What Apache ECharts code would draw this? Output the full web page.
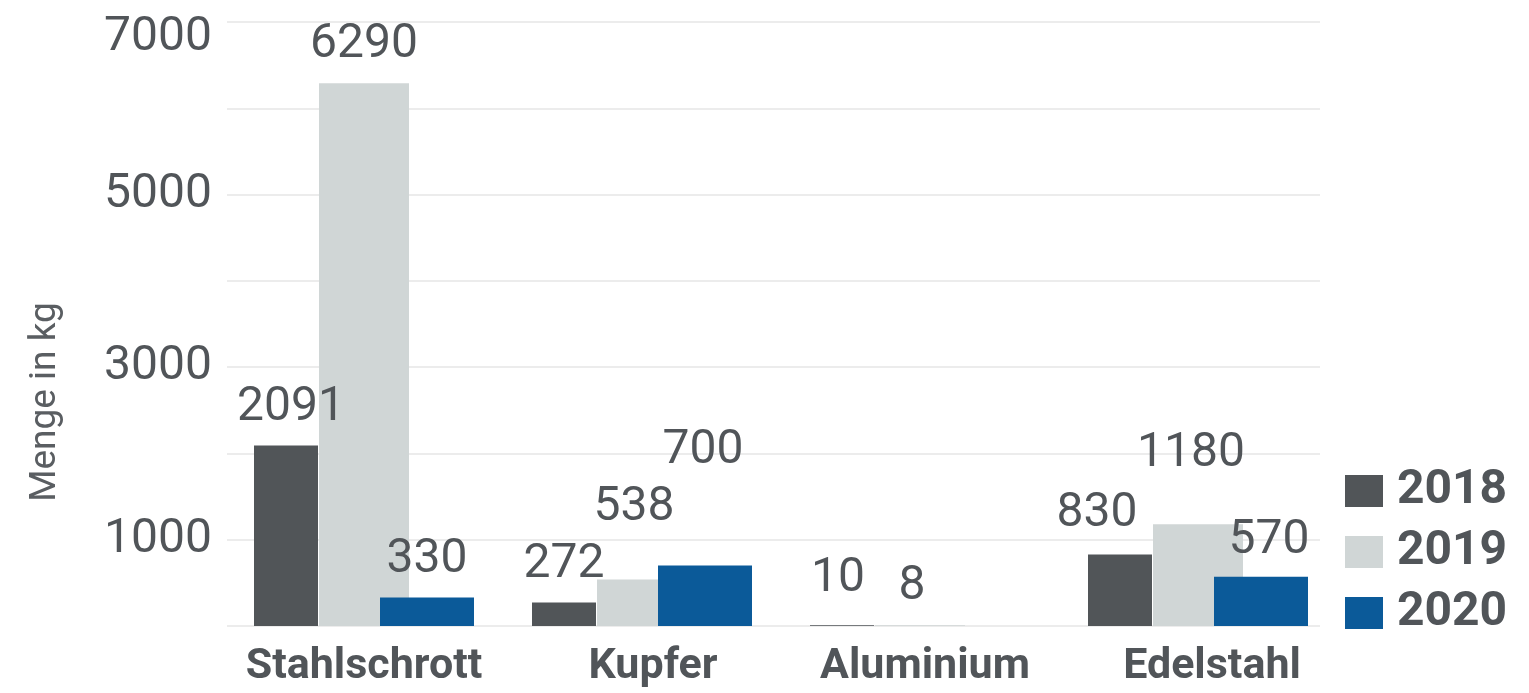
<!DOCTYPE html>
<html>
<head>
<meta charset="utf-8">
<script src="https://cdn.jsdelivr.net/npm/echarts@6/dist/echarts.min.js"></script>
<style>
  html, body { margin: 0; padding: 0; background: #ffffff; }
  #chart { width: 1529px; height: 693px; }
</style>
</head>
<body>
<div id="chart"></div>
<script>
// Materials and yearly quantities (kg)
const categories = ['Stahlschrott', 'Kupfer', 'Aluminium', 'Edelstahl'];
const years = ['2018', '2019', '2020'];
const values2018 = [2091, 272, 10, 830];
const values2019 = [6290, 538, 8, 1180];
const values2020 = [330, 700, null, 570];
const yTickLabels = [1000, 3000, 5000, 7000];

const FONT = 'Roboto';
const TEXT = '#515559';

// Per-year bar look: colour, width and horizontal shift from the category centre
const barLook = [
  { color: '#515558', width: 64, shift: -78 },
  { color: '#d0d6d6', width: 90, shift: 0 },
  { color: '#0b5a99', width: 94, shift: 63 }
];

// Small label nudges [dx, extra lift] so crowded labels don't collide
const labelNudge = {
  '2018|Stahlschrott': [5, 0],
  '2018|Aluminium': [-4, 8],
  '2018|Edelstahl': [-23, 2],
  '2019|Kupfer': [-8, 34],
  '2019|Aluminium': [-8, 0],
  '2019|Edelstahl': [-7, 32],
  '2020|Kupfer': [-2, 77],
  '2020|Edelstahl': [8, -2]
};

// Category label shifts (px) along the axis
const catShift = { 'Stahlschrott': 0, 'Kupfer': 11, 'Aluminium': 5, 'Edelstahl': 14 };

const yearValues = [values2018, values2019, values2020];
const PLOT_TOP = 22, PLOT_BOTTOM = 67, BAR_LEFT = 225, BAR_RIGHT = 192;

const grids = [{ left: 227, right: 209, top: PLOT_TOP, bottom: PLOT_BOTTOM }];
const xAxes = [{ gridIndex: 0, type: 'category', data: categories, show: false }];
const yAxes = [{
  gridIndex: 0, type: 'value', min: 0, max: 7000, interval: 1000,
  axisLine: { show: false }, axisTick: { show: false },
  splitLine: { show: true, lineStyle: { color: '#ececec', width: 2 } },
  axisLabel: {
    margin: 15, fontFamily: FONT, fontSize: 48, color: TEXT,
    formatter: v => yTickLabels.includes(v) ? (v === 7000 ? '{top|' + v + '}' : String(v)) : '',
    rich: { top: { padding: [32, 0, 0, 0], fontFamily: FONT, fontSize: 48, color: TEXT } }
  }
}];

// Category names, each with its own small horizontal shift
const catRich = {};
categories.forEach((c, k) => {
  catRich['k' + k] = {
    fontFamily: FONT, fontSize: 43, fontWeight: 'bold', color: TEXT,
    padding: [0, 0, 0, 2 * (catShift[c] || 0)]
  };
});

const series = [];
years.forEach((yr, i) => {
  const look = barLook[i];
  const gi = i + 1;
  grids.push({ left: BAR_LEFT + look.shift, right: BAR_RIGHT - look.shift, top: PLOT_TOP, bottom: PLOT_BOTTOM });
  xAxes.push({
    gridIndex: gi, type: 'category', data: categories,
    axisLine: { show: false }, axisTick: { show: false }, splitLine: { show: false },
    axisLabel: {
      show: i === 1, margin: 20, interval: 0,
      formatter: name => '{k' + categories.indexOf(name) + '|' + name + '}',
      rich: catRich
    }
  });
  yAxes.push({ gridIndex: gi, type: 'value', min: 0, max: 7000, interval: 1000, show: false, splitLine: { show: false } });
  series.push({
    name: yr, type: 'bar', xAxisIndex: gi, yAxisIndex: gi,
    barWidth: look.width,
    itemStyle: { color: look.color },
    data: yearValues[i].map((v, k) => {
      const n = labelNudge[yr + '|' + categories[k]] || [0, 0];
      return { value: v, label: { offset: [n[0], -n[1]] } };
    }),
    label: {
      show: true, position: 'top', distance: 14,
      fontFamily: FONT, fontSize: 48, color: TEXT,
      formatter: p => p.value == null ? '' : String(p.value)
    }
  });
});

const chart = echarts.init(document.getElementById('chart'), null, { renderer: 'canvas' });
chart.setOption({
  animation: false,
  backgroundColor: '#ffffff',
  grid: grids,
  xAxis: xAxes,
  yAxis: yAxes,
  legend: {
    data: years, orient: 'vertical', left: 1345, top: 467, padding: 0,
    icon: 'rect', itemWidth: 38, itemHeight: 32, itemGap: 13,
    textStyle: { fontFamily: FONT, fontSize: 48, fontWeight: 'bold', color: TEXT, lineHeight: 40, padding: [0, 0, 0, 9] }
  },
  graphic: [{
    type: 'text', x: 46, y: 402, rotation: Math.PI / 2,
    style: { text: 'Menge in kg', fontFamily: FONT, fontSize: 37, fill: '#5a5e62', align: 'center', verticalAlign: 'middle' }
  }],
  series: series
});
</script>
</body>
</html>
